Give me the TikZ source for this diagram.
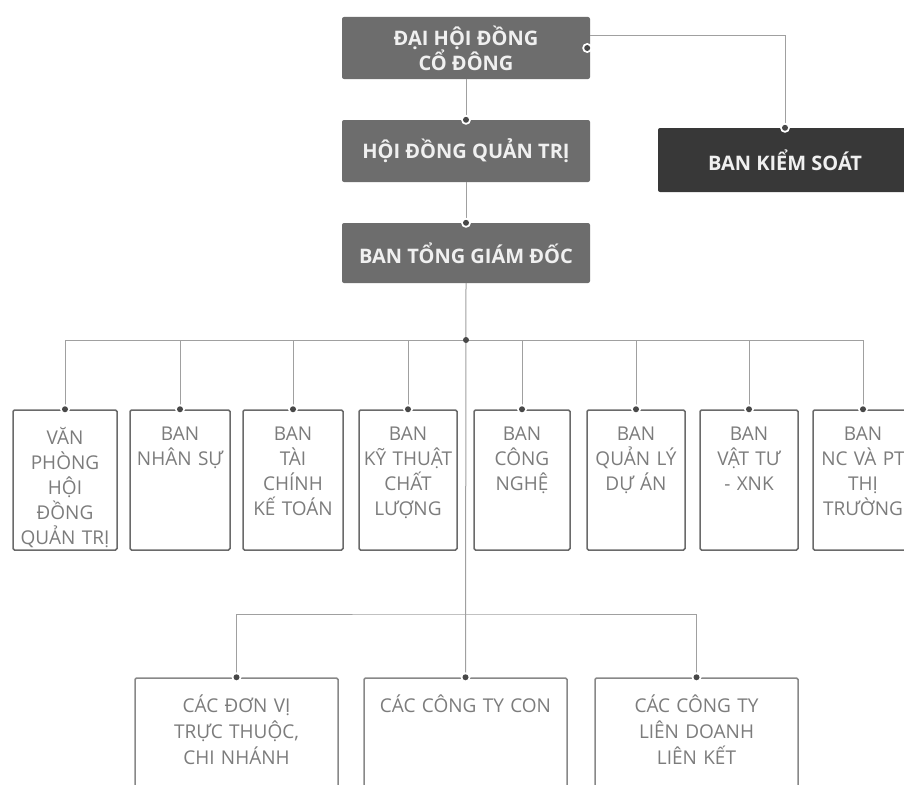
\documentclass[tikz,border=0pt]{standalone}
\usepackage{fontspec}
\setmainfont{Open Sans}
\usepackage{tikz}
\usepackage{xcolor}

\definecolor{headgray}{HTML}{6D6D6D}
\definecolor{ctrlgray}{HTML}{383838}
\definecolor{framegray}{HTML}{6A6A6A}
\definecolor{textgray}{HTML}{7C7C7C}
\definecolor{linegray}{HTML}{A0A0A0}
\definecolor{dotgray}{HTML}{484848}

% text of the light boxes starts at the top
\newcommand{\depttext}[2]{\parbox[c][#1][t]{\linewidth}{\centering\vspace{12pt}#2}}

\begin{document}
\begin{tikzpicture}[x=1pt, y=-1pt,
  headbox/.style={rectangle, fill=headgray, rounded corners=2pt, inner sep=0pt,
    minimum width=248pt, minimum height=62pt, text=white!94!black, align=center,
    font=\fontsize{20}{25}\selectfont\bfseries},
  ctrlbox/.style={headbox, fill=ctrlgray, minimum width=254pt, minimum height=64pt},
  deptbox/.style={rectangle, draw=framegray, line width=1.5pt, rounded corners=1.5pt,
    inner sep=0pt, minimum width=100pt, minimum height=140pt, text width=100pt,
    text=textgray, font=\fontsize{19}{25}\selectfont},
  unitbox/.style={deptbox, draw=framegray!80, minimum width=203pt, minimum height=130pt,
    text width=203pt, font=\fontsize{19}{26}\selectfont},
  conn/.style={draw=linegray, line width=1pt},
  halo/.style={circle, fill=white, inner sep=0pt, minimum size=10pt},
  pin/.style={circle, fill=dotgray, inner sep=0pt, minimum size=6pt}]

\clip (0,0) rectangle (904,784);
\fill[white] (0,0) rectangle (904,784);

% top of the chart
\node[headbox] (dhdcd) at (466,48) {ĐẠI HỘI ĐỒNG\\CỔ ĐÔNG};
\node[headbox] (hdqt) at (466,151) {HỘI ĐỒNG QUẢN TRỊ};
\node[headbox, minimum height=60pt] (btgd) at (466,253) {BAN TỔNG GIÁM ĐỐC};
\node[ctrlbox] (bks) at (785,160) {BAN KIỂM SOÁT};

% departments
\node[deptbox, minimum width=104pt, text width=104pt] (vp) at (65,480) {\depttext{130pt}{VĂN\\PHÒNG\\HỘI\\ĐỒNG\\QUẢN TRỊ}};
\node[deptbox] (ns) at (180,480) {\depttext{130pt}{BAN\\NHÂN SỰ}};
\node[deptbox] (tckt) at (293,480) {\depttext{130pt}{BAN\\TÀI\\CHÍNH\\KẾ TOÁN}};
\node[deptbox, minimum width=98pt, text width=98pt] (ktcl) at (408,480) {\depttext{130pt}{BAN\\KỸ THUẬT\\CHẤT\\LƯỢNG}};
\node[deptbox, minimum width=96pt, text width=96pt] (cn) at (522,480) {\depttext{130pt}{BAN\\CÔNG\\NGHỆ}};
\node[deptbox, minimum width=98pt, text width=98pt] (qlda) at (636,480) {\depttext{130pt}{BAN\\QUẢN LÝ\\DỰ ÁN}};
\node[deptbox, minimum width=98pt, text width=98pt] (vt) at (749,480) {\depttext{130pt}{BAN\\VẬT TƯ\\- XNK}};
\node[deptbox] (nc) at (863,480) {\depttext{130pt}{BAN\\NC VÀ PT\\THỊ\\TRƯỜNG}};

% units
\node[unitbox] (dvtt) at (236.5,743) {\depttext{120pt}{CÁC ĐƠN VỊ\\TRỰC THUỘC,\\CHI NHÁNH}};
\node[unitbox] (ctc) at (465.5,743) {\depttext{120pt}{CÁC CÔNG TY CON}};
\node[unitbox] (ctlk) at (696.5,743) {\depttext{120pt}{CÁC CÔNG TY\\LIÊN DOANH\\LIÊN KẾT}};

\coordinate (bus1) at (466,340);
\coordinate (bus2) at (466,614);
\coordinate (side) at ([xshift=-3pt]dhdcd.east);

% connectors
\draw[conn] (dhdcd.south) -- (hdqt.north);
\draw[conn] (hdqt.south) -- (btgd.north);
\draw[conn] (btgd.south) -- (ctc.north);
\draw[conn] ([yshift=12pt]dhdcd.east) -| (bks.north);
\draw[conn] (bus1 -| vp.north) -- (bus1 -| nc.north);
\foreach \d in {vp,ns,tckt,ktcl,cn,qlda,vt,nc}
  \draw[conn] (bus1 -| \d.north) -- (\d.north);
\draw[conn] (dvtt.north) |- (bus2) -| (ctlk.north);

% pins
\foreach \p in {hdqt.north,btgd.north,bks.north,side,
    vp.north,ns.north,tckt.north,ktcl.north,cn.north,qlda.north,vt.north,nc.north,
    dvtt.north,ctc.north,ctlk.north}
  \node[halo] at (\p) {};
\foreach \p in {hdqt.north,btgd.north,bks.north,side,bus1,
    vp.north,ns.north,tckt.north,ktcl.north,cn.north,qlda.north,vt.north,nc.north,
    dvtt.north,ctc.north,ctlk.north}
  \node[pin] at (\p) {};
\end{tikzpicture}
\end{document}
